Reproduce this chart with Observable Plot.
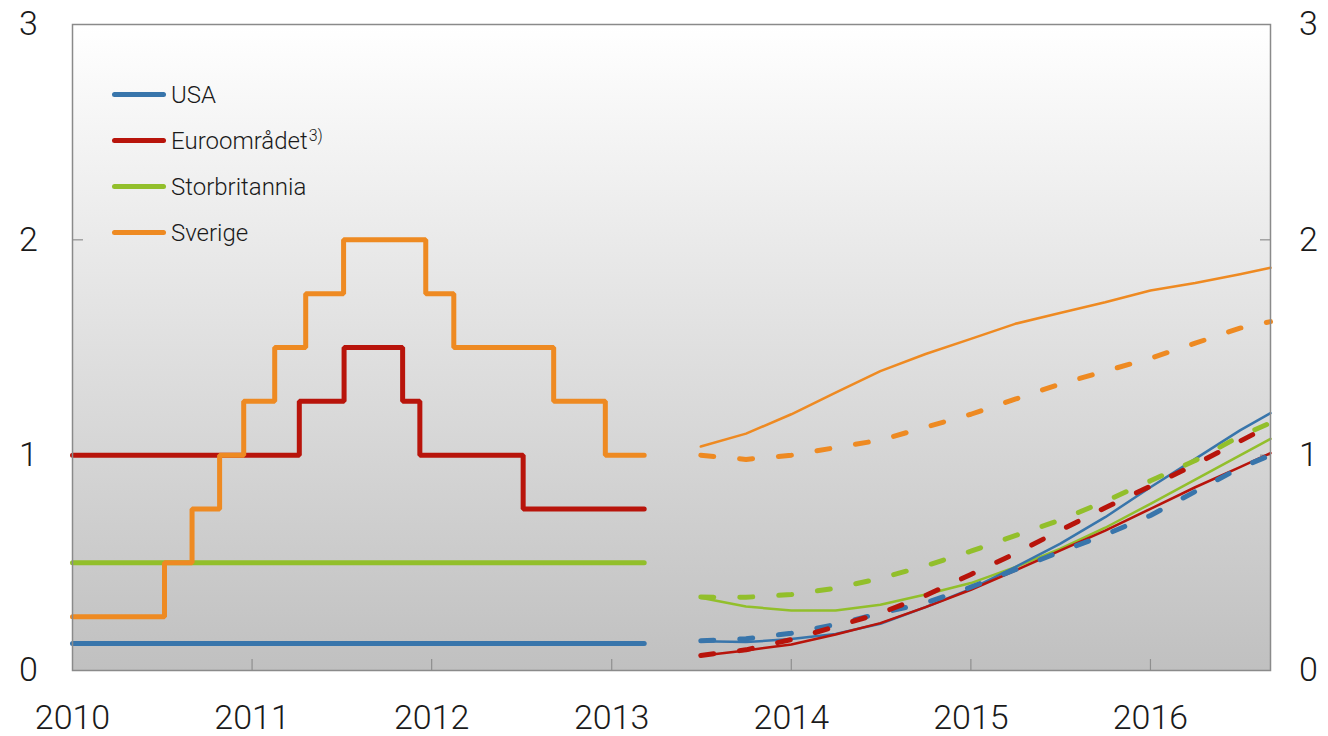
<!DOCTYPE html>
<html><head><meta charset="utf-8">
<script src="https://cdn.jsdelivr.net/npm/d3@7"></script>
<script src="https://cdn.jsdelivr.net/npm/@observablehq/plot@0.6"></script>
<style>
body{margin:0;background:#fff;font-family:Roboto,"Liberation Sans",sans-serif;}
#wrap{position:relative;width:1328px;height:736px;}
.legline{position:absolute;left:112px;width:54px;height:5px;border-radius:3px;}
.legtext{position:absolute;left:171px;font-size:24px;line-height:30px;font-weight:300;color:#1a1a1a;white-space:nowrap;}
.legtext sup{font-size:16px;vertical-align:8px;line-height:0;margin-left:1px;}
</style>
</head><body><div id="wrap"></div>
<script>
// Series names and colours
const countries = ["USA", "Euroområdet", "Storbritannia", "Sverige"];
const colors = ["#3875ab", "#b8140b", "#92bf2b", "#ee8a22"];

// Historical policy rates (step changes)
const histEnd = "2013-03-08";
const usaHistDates = ["2010-01-01", histEnd];
const usaHistRates = [0.125, 0.125];
const euroHistDates = ["2010-01-01","2011-04-07","2011-07-07","2011-11-03","2011-12-08","2012-07-05", histEnd];
const euroHistRates = [1.0, 1.25, 1.5, 1.25, 1.0, 0.75, 0.75];
const ukHistDates = ["2010-01-01", histEnd];
const ukHistRates = [0.5, 0.5];
const sweHistDates = ["2010-01-01","2010-07-07","2010-09-01","2010-10-27","2010-12-15","2011-02-16","2011-04-20","2011-07-06","2011-12-20","2012-02-15","2012-09-05","2012-12-19", histEnd];
const sweHistRates = [0.25, 0.5, 0.75, 1.0, 1.25, 1.5, 1.75, 2.0, 1.75, 1.5, 1.25, 1.0, 1.0];

// Forward rates (quarterly)
const fwdDates = ["2013-07-01","2013-10-01","2014-01-01","2014-04-01","2014-07-01","2014-10-01","2015-01-01","2015-04-01","2015-07-01","2015-10-01","2016-01-01","2016-04-01","2016-07-01","2016-09-01"];
// thin solid lines
const usaFwdNew  = [0.136,0.132,0.146,0.170,0.217,0.294,0.379,0.480,0.588,0.712,0.851,0.983,1.115,1.195];
const euroFwdNew = [0.068,0.093,0.121,0.167,0.220,0.294,0.375,0.464,0.557,0.650,0.751,0.851,0.944,1.010];
const ukFwdNew   = [0.338,0.297,0.279,0.279,0.305,0.353,0.406,0.480,0.565,0.663,0.774,0.886,0.999,1.076];
const sweFwdNew  = [1.04,1.10,1.19,1.29,1.39,1.47,1.54,1.61,1.66,1.71,1.765,1.80,1.84,1.87];
// dashed lines
const usaFwdOld  = [0.138,0.147,0.173,0.214,0.266,0.314,0.387,0.468,0.551,0.630,0.720,0.831,0.941,1.000];
const euroFwdOld = [0.070,0.096,0.144,0.204,0.266,0.348,0.446,0.543,0.650,0.756,0.856,0.957,1.065,1.138];
const ukFwdOld   = [0.341,0.340,0.353,0.382,0.428,0.486,0.554,0.626,0.698,0.786,0.881,0.975,1.088,1.150];
const sweFwdOld  = [1.00,0.98,1.00,1.035,1.07,1.13,1.19,1.26,1.33,1.39,1.45,1.52,1.59,1.62];

const yTicks = [0, 1, 2, 3];
const xTickYears = ["2010","2011","2012","2013","2014","2015","2016"];

// Build tidy tables
function rows(dates, rates, country) {
  return dates.map((d, i) => ({date: new Date(d), rate: rates[i], country}));
}
const hist = [
  ...rows(usaHistDates, usaHistRates, "USA"),
  ...rows(euroHistDates, euroHistRates, "Euroområdet"),
  ...rows(ukHistDates, ukHistRates, "Storbritannia"),
  ...rows(sweHistDates, sweHistRates, "Sverige")
];
const fwdNew = [
  ...rows(fwdDates, sweFwdNew, "Sverige"),
  ...rows(fwdDates, ukFwdNew, "Storbritannia"),
  ...rows(fwdDates, usaFwdNew, "USA"),
  ...rows(fwdDates, euroFwdNew, "Euroområdet")
];
const fwdOld = [
  ...rows(fwdDates, sweFwdOld, "Sverige"),
  ...rows(fwdDates, ukFwdOld, "Storbritannia"),
  ...rows(fwdDates, usaFwdOld, "USA"),
  ...rows(fwdDates, euroFwdOld, "Euroområdet")
];
const xTicks = xTickYears.map(y => new Date(y + "-01-01"));
const innerXTicks = xTicks.slice(1);
const innerYTicks = yTicks.slice(1, -1);

const font = "Roboto, 'Liberation Sans', sans-serif";
const axisCommon = {fontSize: 34, fontWeight: 300, label: null};

const plot = Plot.plot({
  width: 1328, height: 736,
  marginLeft: 72, marginRight: 58, marginTop: 24, marginBottom: 66,
  style: {fontFamily: font, background: "#fff", overflow: "visible", color: "#1a1a1a"},
  x: {type: "utc", domain: [new Date("2010-01-01"), new Date("2016-09-01")]},
  y: {domain: [0, 3]},
  color: {domain: countries, range: colors},
  marks: [
    Plot.frame({fill: "url(#bgGrad)", stroke: null}),
    // inward tick marks
    Plot.axisY(innerYTicks, {anchor: "left", tickSize: 11, dx: 11, tickFormat: () => "", label: null, stroke: "#8f8f8f", strokeWidth: 1.2}),
    Plot.axisY(innerYTicks, {anchor: "right", tickSize: 11, dx: -11, tickFormat: () => "", label: null, stroke: "#8f8f8f", strokeWidth: 1.2}),
    Plot.axisX(innerXTicks, {anchor: "bottom", tickSize: 11, dy: -11, tickFormat: () => "", label: null, stroke: "#8f8f8f", strokeWidth: 1.2}),
    // tick labels
    Plot.axisY(yTicks, {anchor: "left", tickSize: 0, tickPadding: 44, textAnchor: "middle", tickFormat: d3.format("d"), ...axisCommon}),
    Plot.axisY(yTicks, {anchor: "right", tickSize: 0, tickPadding: 38, textAnchor: "middle", tickFormat: d3.format("d"), ...axisCommon}),
    Plot.axisX(xTicks, {anchor: "bottom", tickSize: 0, tickPadding: 34, tickFormat: d3.utcFormat("%Y"), ...axisCommon}),
    // historical step lines
    Plot.line(hist, {x: "date", y: "rate", z: "country", stroke: "country", curve: "step-after", strokeWidth: 5, strokeLinecap: "round", strokeLinejoin: "miter"}),
    // forward rates
    Plot.line(fwdNew, {x: "date", y: "rate", z: "country", stroke: "country", strokeWidth: 2.5}),
    Plot.line(fwdOld, {x: "date", y: "rate", z: "country", stroke: "country", strokeWidth: 5, strokeDasharray: "13,26", strokeLinecap: "round"}),
    Plot.frame({stroke: "#8a8a8a", strokeWidth: 1.5})
  ]
});

// background gradient for the plot area
const defs = d3.select(plot).insert("defs", ":first-child");
const grad = defs.append("linearGradient").attr("id", "bgGrad").attr("x1", 0).attr("y1", 0).attr("x2", 0).attr("y2", 1);
grad.append("stop").attr("offset", "0%").attr("stop-color", "#ffffff");
grad.append("stop").attr("offset", "100%").attr("stop-color", "#c0c0c0");

const wrap = document.getElementById("wrap");
wrap.appendChild(plot);

// legend overlay
const legendLabels = ["USA", "Euroområdet<sup>3)</sup>", "Storbritannia", "Sverige"];
legendLabels.forEach((lab, i) => {
  const cy = 94.5 + i * 46;
  const line = document.createElement("div");
  line.className = "legline";
  line.style.top = (cy - 2.5) + "px";
  line.style.background = colors[i];
  wrap.appendChild(line);
  const t = document.createElement("div");
  t.className = "legtext";
  t.style.top = (cy - 14.7) + "px";
  t.innerHTML = lab;
  wrap.appendChild(t);
});
</script>
</body></html>
